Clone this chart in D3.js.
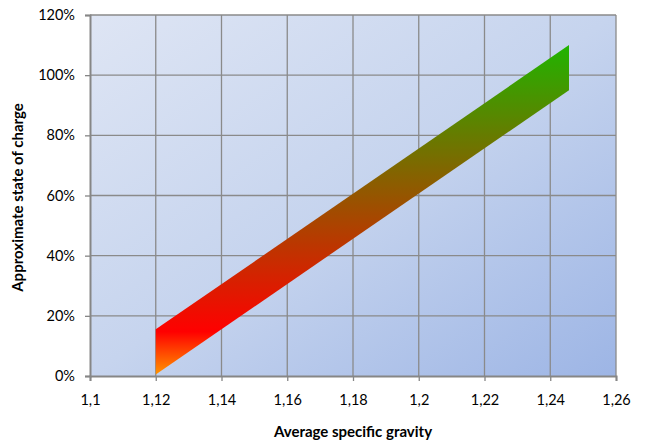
<!DOCTYPE html>
<html>
<head>
<meta charset="utf-8">
<script src="https://cdn.jsdelivr.net/npm/d3@7"></script>
<style>
  html, body { margin: 0; padding: 0; background: #fff; }
  svg { display: block; font-family: Lato, "Open Sans", sans-serif; }
</style>
</head>
<body>
<svg id="chart" width="647" height="441"></svg>
<script>
// Specific gravity vs. approximate state of charge: a band between two lines
const gravity = [1.12, 1.2457];
const upperCharge = [15.5, 110];
const lowerCharge = [0.5, 95];
const xTicks = [1.1, 1.12, 1.14, 1.16, 1.18, 1.2, 1.22, 1.24, 1.26];
const yTicks = [0, 20, 40, 60, 80, 100, 120];

const svg = d3.select("#chart");
const plot = { left: 90, right: 616, top: 15, bottom: 376 };
const font = "Lato, 'Open Sans', sans-serif";

const x = d3.scaleLinear().domain([1.1, 1.26]).range([plot.left, plot.right]);
const y = d3.scaleLinear().domain([0, 120]).range([plot.bottom, plot.top]);

const defs = svg.append("defs");
const bg = defs.append("linearGradient").attr("id", "bg")
  .attr("x1", 0).attr("y1", 0).attr("x2", 1).attr("y2", 1);
bg.append("stop").attr("offset", 0).attr("stop-color", "#dee5f4");
bg.append("stop").attr("offset", 0.5).attr("stop-color", "#c6d4ee");
bg.append("stop").attr("offset", 1).attr("stop-color", "#9db5e5");

const bandGrad = defs.append("linearGradient").attr("id", "band")
  .attr("gradientUnits", "userSpaceOnUse")
  .attr("x1", 0).attr("x2", 0)
  .attr("y1", y(d3.max(upperCharge))).attr("y2", y(d3.min(lowerCharge)));
bandGrad.append("stop").attr("offset", 0).attr("stop-color", "#20b400");
bandGrad.append("stop").attr("offset", 0.87).attr("stop-color", "#ff0000");
bandGrad.append("stop").attr("offset", 1).attr("stop-color", "#ff9400");

// Plot background
svg.append("rect")
  .attr("x", plot.left).attr("y", plot.top)
  .attr("width", plot.right - plot.left).attr("height", plot.bottom - plot.top)
  .attr("fill", "url(#bg)");

// Gridlines
const grid = svg.append("g").attr("stroke", "#8a8a8a").attr("stroke-width", 1.3);
grid.selectAll(".gx").data(xTicks.slice(1)).join("line")
  .attr("x1", d => x(d)).attr("x2", d => x(d))
  .attr("y1", plot.top).attr("y2", plot.bottom);
grid.selectAll(".gy").data(yTicks.slice(1)).join("line")
  .attr("x1", plot.left).attr("x2", plot.right)
  .attr("y1", d => y(d)).attr("y2", d => y(d));

// Band
const bandData = gravity.map((g, i) => ({ g, lo: lowerCharge[i], hi: upperCharge[i] }));
const area = d3.area().x(d => x(d.g)).y0(d => y(d.lo)).y1(d => y(d.hi));
svg.append("path").datum(bandData).attr("d", area).attr("fill", "url(#band)");

// Axes
const fmtX = d => String(+d.toFixed(2)).replace(".", ",");
const xAxis = svg.append("g").attr("transform", `translate(0,${plot.bottom})`)
  .call(d3.axisBottom(x).tickValues(xTicks).tickFormat(fmtX).tickSizeOuter(0).tickSize(5).tickPadding(14));
const yAxis = svg.append("g").attr("transform", `translate(${plot.left},0)`)
  .call(d3.axisLeft(y).tickValues(yTicks).tickFormat(d => d + "%").tickSizeOuter(0).tickSize(5).tickPadding(10));

[xAxis, yAxis].forEach(a => {
  a.select(".domain").attr("stroke", "#868686").attr("stroke-width", 2);
  a.selectAll(".tick line").attr("stroke", "#868686").attr("stroke-width", 1.3);
  a.selectAll("text").attr("fill", "#000").attr("font-size", 14.5).attr("font-family", font);
});

// Axis titles
svg.append("text")
  .attr("x", (plot.left + plot.right) / 2).attr("y", 437)
  .attr("text-anchor", "middle").attr("font-size", 15).attr("font-weight", "bold")
  .attr("font-family", font)
  .text("Average specific gravity");
svg.append("text")
  .attr("transform", `translate(23,${(plot.top + plot.bottom) / 2 + 2}) rotate(-90)`)
  .attr("text-anchor", "middle").attr("font-size", 15).attr("font-weight", "bold")
  .attr("font-family", font)
  .text("Approximate state of charge");
</script>
</body>
</html>
